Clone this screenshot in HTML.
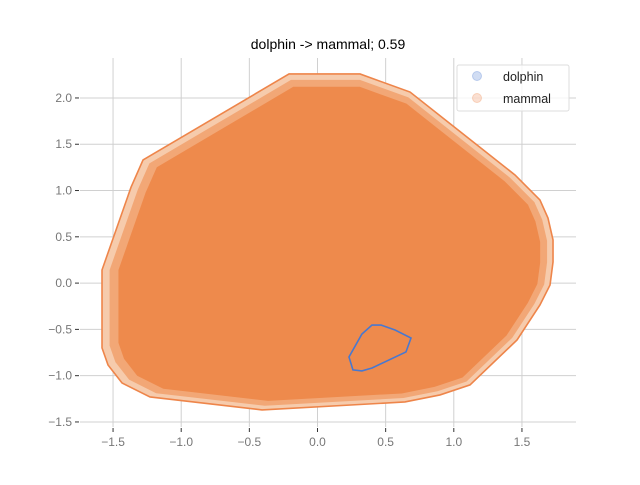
<!DOCTYPE html>
<html><head><meta charset="utf-8"><style>
body{margin:0;background:#fff;font-family:"Liberation Sans","DejaVu Sans",sans-serif}
</style></head><body>
<svg id="chart" width="640" height="480" xmlns="http://www.w3.org/2000/svg">
<rect width="640" height="480" fill="#fff"/>
<text x="328" y="49" text-anchor="middle" font-size="14" fill="#000">dolphin -&gt; mammal; 0.59</text>
<g id="grid"></g><g id="marks"></g><g id="axes"></g>
<g>
<rect x="457" y="65" width="112" height="46" rx="2" fill="#fff" fill-opacity="0.8" stroke="#ddd"/>
<circle cx="477" cy="76" r="4.5" fill="#4878d0" fill-opacity="0.25" stroke="#4878d0" stroke-opacity="0.3"/>
<text x="503" y="81" font-size="12.5" fill="#222">dolphin</text>
<circle cx="477" cy="98" r="4.5" fill="#ee854a" fill-opacity="0.25" stroke="#ee854a" stroke-opacity="0.3"/>
<text x="503" y="103" font-size="12.5" fill="#222">mammal</text>
</g>
</svg>
<script>
const xTicks=[-1.5,-1.0,-0.5,0.0,0.5,1.0,1.5];
const yTicks=[-1.5,-1.0,-0.5,0.0,0.5,1.0,1.5,2.0];
const xTickLabels=["−1.5","−1.0","−0.5","0.0","0.5","1.0","1.5"];
const yTickLabels=["−1.5","−1.0","−0.5","0.0","0.5","1.0","1.5","2.0"];
const mammalX=[-1.581,-1.368,-1.280,-0.209,0.312,0.679,1.449,1.632,1.691,1.728,1.728,1.706,1.632,1.464,1.119,0.899,0.642,-0.407,-1.229,-1.434,-1.537,-1.581];
const mammalY=[0.142,1.036,1.330,2.259,2.259,2.064,1.168,0.898,0.703,0.466,0.228,-0.020,-0.236,-0.614,-1.100,-1.208,-1.284,-1.370,-1.230,-1.079,-0.884,-0.700];
const dolphinX=[0.231,0.260,0.326,0.400,0.649,0.686,0.569,0.466,0.400,0.326];
const dolphinY=[-0.798,-0.938,-0.949,-0.917,-0.744,-0.593,-0.507,-0.453,-0.453,-0.550];
const X0=80,X1=576,Y0=58,Y1=427;
const sx=v=>317.5+v*136.3, sy=v=>283.1-v*92.57;
const NS="http://www.w3.org/2000/svg";
function mk(p,t,a){const e=document.createElementNS(NS,t);for(const k in a)e.setAttribute(k,a[k]);p.appendChild(e);return e;}
const grid=document.getElementById('grid'),marks=document.getElementById('marks'),axes=document.getElementById('axes');
xTicks.forEach((v,i)=>{
 const l=mk(grid,'line',{x1:sx(v),x2:sx(v),y1:Y0,y2:Y1,stroke:'#d0d0d0','stroke-width':1});
 
 
 const t=mk(axes,'line',{x1:sx(v),x2:sx(v),y1:Y1+1,y2:Y1+5,stroke:'#333','stroke-width':1});
 
 
 const tx=mk(axes,'text',{x:sx(v),y:Y1+19,'text-anchor':'middle','font-size':12,fill:'#777'});
 tx.textContent=xTickLabels[i];
 
 
});
yTicks.forEach((v,i)=>{
 const l=mk(grid,'line',{x1:X0,x2:X1,y1:sy(v),y2:sy(v),stroke:'#d0d0d0','stroke-width':1});
 
 
 const t=mk(axes,'line',{x1:X0-5,x2:X0-1,y1:sy(v),y2:sy(v),stroke:'#333','stroke-width':1});
 
 
 const tx=mk(axes,'text',{x:X0-8,y:sy(v)+4,'text-anchor':'end','font-size':12,fill:'#777'});
 tx.textContent=yTickLabels[i];
 
 
});
function pts(xs,ys,cx,cy,k){return xs.map((x,i)=>sx(cx+(x-cx)*k)+','+sy(cy+(ys[i]-cy)*k)).join(' ');}
const cx=mammalX.reduce((a,b)=>a+b)/mammalX.length, cy=mammalY.reduce((a,b)=>a+b)/mammalY.length;
const halo=mk(marks,'polygon',{points:pts(mammalX,mammalY,cx,cy,0.995),fill:'#f6cbac','stroke-linejoin':'round',stroke:'#f6cbac','stroke-width':2});


const mid=mk(marks,'polygon',{points:pts(mammalX,mammalY,cx,cy,0.97),fill:'#f2a776'});


const core=mk(marks,'polygon',{points:pts(mammalX,mammalY,cx,cy,0.935),fill:'#ee8a4c'});


const mh=mk(marks,'polygon',{points:pts(mammalX,mammalY,0,0,1),fill:'none',stroke:'#ee854a','stroke-width':1.6});


const dh=mk(marks,'polygon',{points:pts(dolphinX,dolphinY,0,0,1),fill:'none',stroke:'#4878d0','stroke-width':1.6});


</script>
</body></html>
